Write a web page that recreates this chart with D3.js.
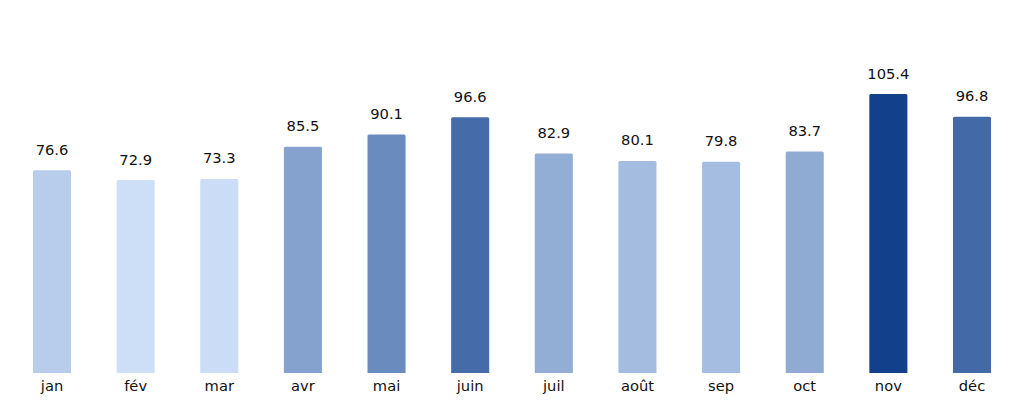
<!DOCTYPE html>
<html lang="fr">
<head>
    <meta charset="UTF-8">
    <title>Valeurs mensuelles</title>
    <script src="https://d3js.org/d3.v7.min.js"></script>
    <style>
        body { margin: 0; background: #fff; }
        text { font-family: "DejaVu Sans", sans-serif; fill: #111; }
    </style>
</head>
<body>
<svg id="chart" width="1024" height="404"></svg>
<script>
    // data
    const months = ["jan", "fév", "mar", "avr", "mai", "juin", "juil", "août", "sep", "oct", "nov", "déc"];
    const values = [76.6, 72.9, 73.3, 85.5, 90.1, 96.6, 82.9, 80.1, 79.8, 83.7, 105.4, 96.8];

    const svg = d3.select("#chart");
    const baseY = 373;

    const x = d3.scalePoint()
        .domain(months)
        .range([52, 972]);
    const barW = x.step() * 0.455;

    const y = d3.scaleLinear()
        .domain([0, 105.4])
        .range([baseY, 94]);

    // colour follows the value
    const color = d3.scaleLinear()
        .domain([d3.min(values), d3.max(values)])
        .range(["#cddff7", "#12408a"]);

    const rows = months.map((m, i) => ({m: m, v: values[i]}));

    svg.append("g")
        .selectAll("rect")
        .data(rows)
        .join("rect")
        .attr("x", d => x(d.m) - barW / 2)
        .attr("y", d => y(d.v))
        .attr("width", barW)
        .attr("height", d => baseY - y(d.v) + 2)
        .attr("rx", 1.5)
        .attr("fill", d => color(d.v));

    // cover the rounded bottom corners
    svg.append("rect")
        .attr("x", 0).attr("y", baseY)
        .attr("width", 1024).attr("height", 10)
        .attr("fill", "#fff");

    svg.append("g")
        .selectAll("text")
        .data(rows)
        .join("text")
        .attr("x", d => x(d.m))
        .attr("y", d => y(d.v) - 15.5)
        .attr("text-anchor", "middle")
        .style("font-size", "14.7px")
        .text(d => d.v.toFixed(1));

    svg.append("g")
        .selectAll("text")
        .data(months)
        .join("text")
        .attr("x", d => x(d))
        .attr("y", 390.5)
        .attr("text-anchor", "middle")
        .style("font-size", "14.7px")
        .text(d => d);
</script>
</body>
</html>
